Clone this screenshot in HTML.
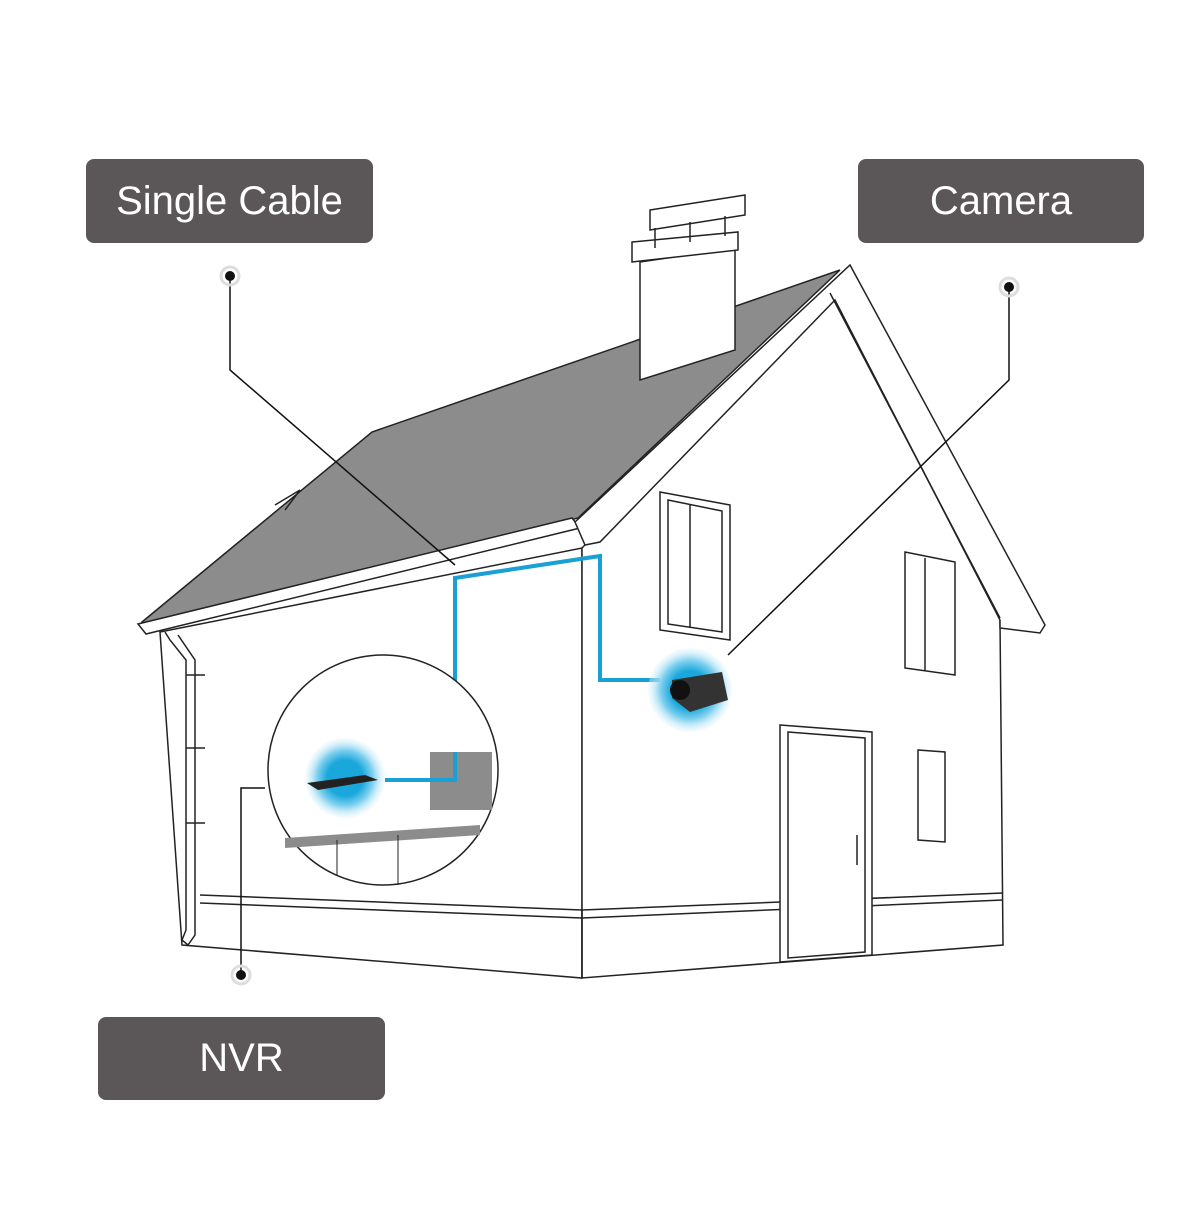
<!DOCTYPE html>
<html><head><style>
html,body{margin:0;padding:0;background:#fff;}
.lbl{position:absolute;background:#5b5759;color:#fff;font-family:"Liberation Sans",sans-serif;font-size:40px;display:flex;align-items:center;justify-content:center;border-radius:8px;}
</style></head><body>
<div style="position:relative;width:1200px;height:1210px;overflow:hidden">
<svg width="1200" height="1210" viewBox="0 0 1200 1210" style="position:absolute;left:0;top:0">
<defs>
<radialGradient id="g"><stop offset="0.45" stop-color="#1aa8dc"/><stop offset="0.7" stop-color="#7fd0ef"/><stop offset="1" stop-color="#e3f5fc" stop-opacity="0.3"/></radialGradient>
</defs>
<g fill="none" stroke="#222" stroke-width="1.5">
<!-- walls -->
<polygon points="160,632 582,548 582,978 182,945" fill="#fff"/>
<polygon points="582,548 850,268 1000,620 1003,945 582,978" fill="#fff"/>
<!-- roof -->
<polygon points="142,622 372,432 840,270 578,518 150,628" fill="#8c8c8c"/>
<polyline points="275,505 300,490 285,510"/>
<!-- gutter -->
<path d="M138,624 L572,518 L580,528 L146,634 Z" fill="#fff"/>
<!-- gable -->
<polygon points="575,522 850,265 1045,625 1040,633 1000,628 1000,620 835,300 600,542 585,545" fill="#fff"/>
<line x1="830" y1="293" x2="1000" y2="618"/>
<!-- downpipe -->
<path d="M165,632 L170,640 L186,660 L186,930 L182,940 L188,945 L195,935 L195,660 L178,635" fill="#fff"/>
<line x1="186" y1="675" x2="205" y2="675"/><line x1="186" y1="748" x2="205" y2="748"/><line x1="186" y1="823" x2="205" y2="823"/>
<!-- plinth -->
<polyline points="200,895 582,910 1003,893"/>
<polyline points="200,903 582,918 1003,900"/>
<line x1="582" y1="910" x2="582" y2="978"/>
<!-- chimney -->
<polygon points="640,262 735,248 735,350 640,380" fill="#fff"/>
<polygon points="632,242 738,232 738,250 632,262" fill="#fff"/>
<polygon points="650,210 745,195 745,215 650,230" fill="#fff"/>
<line x1="655" y1="228" x2="655" y2="248"/><line x1="690" y1="222" x2="690" y2="242"/><line x1="725" y1="216" x2="725" y2="236"/>
<!-- windows -->
<polygon points="660,492 730,505 730,640 660,630" fill="#fff"/>
<polygon points="668,500 722,511 722,632 668,624"/>
<line x1="690" y1="505" x2="690" y2="628"/>
<polygon points="905,552 955,562 955,675 905,668" fill="#fff"/>
<line x1="925" y1="558" x2="925" y2="671"/>
<polygon points="918,750 945,752 945,842 918,840" fill="#fff"/>
<!-- door -->
<polygon points="780,725 872,732 872,955 780,962" fill="#fff"/>
<polygon points="788,732 865,738 865,952 788,958"/>
<line x1="857" y1="835" x2="857" y2="865"/>
</g>
<!-- cable -->
<polyline points="385,780 455,780 455,578 600,556 600,680 660,680" fill="none" stroke="#1aa0d4" stroke-width="4"/>
<!-- inset -->
<circle cx="383" cy="770" r="115" fill="#fff" stroke="#222" stroke-width="1.5"/>
<rect x="430" y="752" width="62" height="58" fill="#8c8c8c"/>
<polyline points="385,780 455,780 455,752" fill="none" stroke="#1aa0d4" stroke-width="4"/>
<polygon points="285,838 480,825 480,835 285,848" fill="#8c8c8c"/>
<line x1="337" y1="840" x2="337" y2="875" stroke="#222"/><line x1="398" y1="835" x2="398" y2="885" stroke="#222"/>
<circle cx="345" cy="778" r="40" fill="url(#g)"/>
<polygon points="307,783 365,775 378,780 318,790" fill="#222"/>
<!-- camera -->
<circle cx="690" cy="690" r="42" fill="url(#g)"/>
<polygon points="672,680 722,672 728,700 690,712 672,698" fill="#333"/>
<circle cx="680" cy="690" r="10" fill="#111"/>
<!-- leaders -->
<g stroke="#111" stroke-width="1.5" fill="none">
<polyline points="230,276 230,370 455,565"/>
<polyline points="1009,287 1009,380 728,655"/>
<polyline points="241,975 241,788 265,788"/>
</g>
<g fill="#111"><circle cx="230" cy="276" r="5"/><circle cx="1009" cy="287" r="5"/><circle cx="241" cy="975" r="5"/></g>
<g fill="none" stroke="#ddd" stroke-width="3"><circle cx="230" cy="276" r="9"/><circle cx="1009" cy="287" r="9"/><circle cx="241" cy="975" r="9"/></g>
</svg>
<div class="lbl" style="left:86px;top:159px;width:287px;height:84px">Single Cable</div>
<div class="lbl" style="left:858px;top:159px;width:286px;height:84px">Camera</div>
<div class="lbl" style="left:98px;top:1017px;width:287px;height:83px">NVR</div>
</div>
</body></html>
